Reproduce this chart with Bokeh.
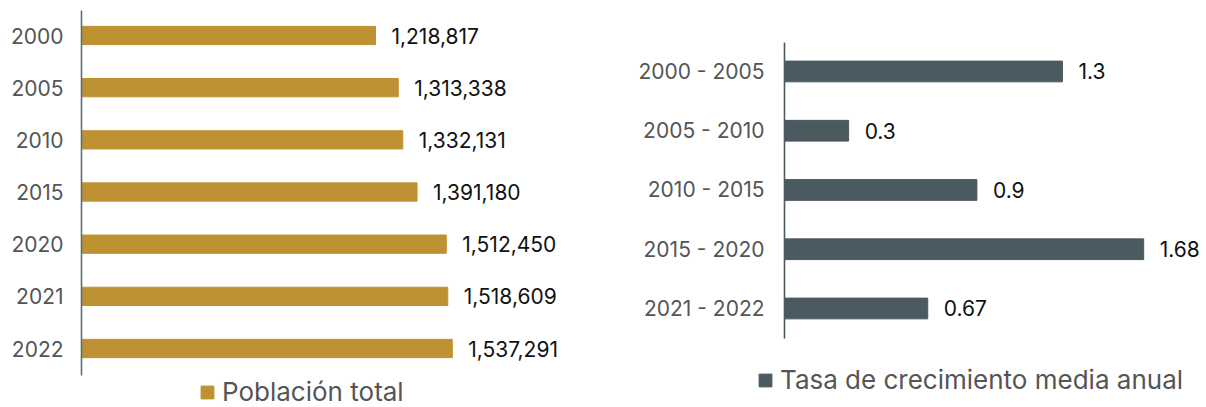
from bokeh.plotting import figure
from bokeh.models import Range1d, Legend, LegendItem, ColumnDataSource, FixedTicker
from bokeh.layouts import row
from bokeh.embed import file_html
from bokeh.resources import INLINE
from bokeh.core.properties import value

# ---- data ----
years = ["2000", "2005", "2010", "2015", "2020", "2021", "2022"]
population = [1218817, 1313338, 1332131, 1391180, 1512450, 1518609, 1537291]

periods = ["2000 - 2005", "2005 - 2010", "2010 - 2015", "2015 - 2020", "2021 - 2022"]
growth = [1.3, 0.3, 0.9, 1.68, 0.67]
growth_labels = ["1.3", "0.3", "0.9", "1.68", "0.67"]

GOLD = "#BE9232"
SLATE = "#4B5A61"
FONT = "Inter"
TICK_COLOR = "#555555"
H = 407


def base_style(p):
    p.xaxis.visible = False
    p.xgrid.visible = False
    p.ygrid.visible = False
    p.outline_line_color = None
    p.background_fill_color = "white"
    p.border_fill_color = "white"


def axis_style(ax, axis_color, bounds):
    ax.bounds = bounds
    ax.axis_line_color = axis_color
    ax.axis_line_width = 1.6
    ax.major_tick_line_color = None
    ax.minor_tick_line_color = None
    ax.major_tick_out = 0
    ax.major_tick_in = 0


# ---- left chart ----
src1 = ColumnDataSource(dict(y=list(range(len(years))), x=population,
                             lab=["{:,}".format(v) for v in population]))
p1 = figure(width=608, height=H, y_range=Range1d(7.131, -0.671),
            x_range=Range1d(0, 2185000), output_backend="svg", toolbar_location=None,
            min_border_left=81, min_border_right=0, min_border_top=0, min_border_bottom=0)
r1 = p1.hbar(y="y", right="x", left=0, height=0.35, source=src1, color=GOLD)
p1.text(x="x", y="y", text="lab", source=src1, x_offset=16, text_baseline="middle",
        text_align="left", text_font=value(FONT), text_font_size="21px", text_color="#111111")
base_style(p1)
ax1 = p1.yaxis[0]
axis_style(ax1, "#5f6e73", (-0.48, 6.52))
ax1.ticker = FixedTicker(ticks=list(range(len(years))))
ax1.major_label_overrides = {i: lab for i, lab in enumerate(years)}
ax1.major_label_standoff = 18
ax1.major_label_text_font = FONT
ax1.major_label_text_font_size = "21px"
ax1.major_label_text_color = TICK_COLOR
leg1 = Legend(items=[LegendItem(label="Población total", renderers=[r1])],
              location=(118, 0), orientation="horizontal")
p1.add_layout(leg1)

# ---- right chart ----
src2 = ColumnDataSource(dict(y=list(range(len(periods))), x=growth, lab=growth_labels,
                             cat=periods, zero=[0] * len(periods)))
p2 = figure(width=598, height=H, y_range=Range1d(5.671, -1.198),
            x_range=Range1d(-0.7764, 1.9738), output_backend="svg", toolbar_location=None,
            min_border_left=10, min_border_right=0, min_border_top=0, min_border_bottom=0)
r2 = p2.hbar(y="y", right="x", left=0, height=0.35, source=src2, color=SLATE)
p2.text(x="x", y="y", text="lab", source=src2, x_offset=16, text_baseline="middle",
        text_align="left", text_font=value(FONT), text_font_size="21px", text_color="#111111")
p2.text(x="zero", y="y", text="cat", source=src2, x_offset=-20, text_baseline="middle",
        text_align="right", text_font=value(FONT), text_font_size="21px", text_color=TICK_COLOR)
base_style(p2)
ax2 = p2.yaxis[0]
axis_style(ax2, SLATE, (-0.49, 4.51))
ax2.ticker = FixedTicker(ticks=[])
ax2.fixed_location = 0
leg2 = Legend(items=[LegendItem(label="Tasa de crecimiento media anual", renderers=[r2])],
              location=(139, 12), orientation="horizontal")
p2.add_layout(leg2)

for lg in (leg1, leg2):
    lg.padding = 0
    lg.margin = 0
    lg.border_line_color = None
    lg.background_fill_alpha = 0
    lg.glyph_width = 16
    lg.glyph_height = 16
    lg.label_standoff = 7
    lg.label_text_font = FONT
    lg.label_text_font_size = "26px"
    lg.label_text_color = TICK_COLOR
    lg.label_height = 16

layout = row(p1, p2)
open("out.html", "w").write(file_html(layout, INLINE))
